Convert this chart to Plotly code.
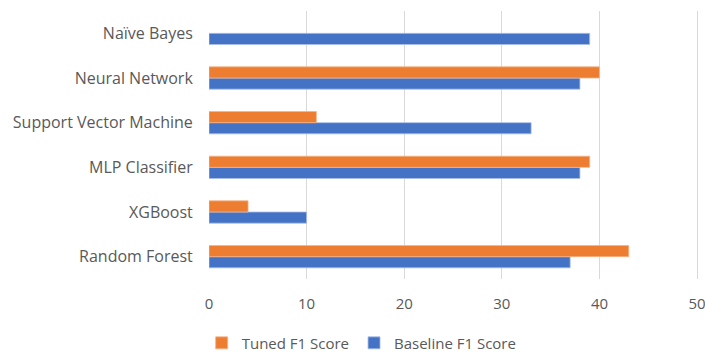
import plotly.graph_objects as go

categories = ["Random Forest", "XGBoost", "MLP Classifier", "Support Vector Machine", "Neural Network", "Naïve Bayes"]
baseline_f1 = [37, 10, 38, 33, 38, 39]
tuned_f1 = [43, 4, 39, 11, 40, None]
x_ticks = [0, 10, 20, 30, 40, 50]

FONT = "Open Sans"
GREY = "#595959"

fig = go.Figure()
fig.add_trace(go.Bar(y=categories, x=baseline_f1, orientation="h", name="Baseline F1 Score",
                     marker=dict(color="#4472C4", line=dict(color="#A9BFE8", width=0.8))))
fig.add_trace(go.Bar(y=categories, x=tuned_f1, orientation="h", name="Tuned F1 Score",
                     marker=dict(color="#ED7D31", line=dict(color="#F4B48A", width=0.8))))

fig.update_layout(
    width=705, height=353,
    margin=dict(l=209, r=5, t=11, b=74, autoexpand=False),
    paper_bgcolor="white", plot_bgcolor="white",
    barmode="group", bargap=0.5, bargroupgap=0,
    font=dict(family=FONT, size=15, color=GREY),
    legend=dict(orientation="h", traceorder="reversed", x=0.513, xanchor="center", xref="container",
                y=0.028, yanchor="middle", yref="container", font=dict(size=15, color=GREY),
                itemwidth=30),
    xaxis=dict(range=[0, 50.3], tickvals=x_ticks, showgrid=True, gridcolor="#D9D9D9", gridwidth=1,
               zeroline=False, showline=False, ticks="outside", ticklen=11, tickcolor="rgba(0,0,0,0)",
               ticklabeloverflow="allow", tickfont=dict(size=15, color=GREY)),
    yaxis=dict(showgrid=False, zeroline=False, showline=False, ticks="outside", ticklen=12,
               tickcolor="rgba(0,0,0,0)", tickfont=dict(size=16, color=GREY)),
)

fig.write_html("out.html")
